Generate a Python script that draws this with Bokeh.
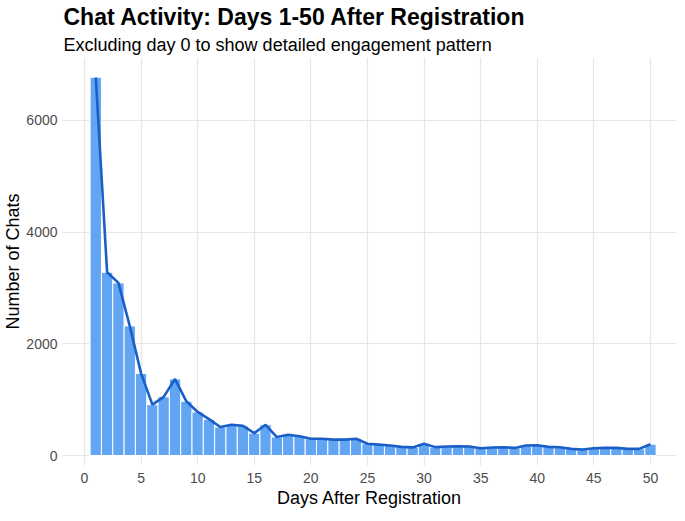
from bokeh.plotting import figure
from bokeh.models import Title, FixedTicker, Range1d, ColumnDataSource
from bokeh.embed import file_html
from bokeh.resources import INLINE

days = list(range(1, 51))
chats = [6770, 3280, 3090, 2320, 1470, 910, 1050, 1370, 970, 780,
         650, 510, 550, 530, 400, 550, 330, 370, 345, 300,
         300, 285, 285, 300, 210, 195, 180, 155, 145, 210,
         150, 160, 165, 160, 130, 142, 148, 136, 178, 184,
         154, 148, 119, 107, 130, 136, 136, 119, 119, 202]
x_ticks = [0, 5, 10, 15, 20, 25, 30, 35, 40, 45, 50]
y_ticks = [0, 2000, 4000, 6000]

title_text = "Chat Activity: Days 1-50 After Registration"
subtitle_text = "Excluding day 0 to show detailed engagement pattern"
x_label = "Days After Registration"
y_label = "Number of Chats"

FONT = "Liberation Sans"

src = ColumnDataSource(dict(day=days, chats=chats))

p = figure(width=677, height=513, output_backend="svg", toolbar_location=None,
           x_range=Range1d(-1.94, 52.3), y_range=Range1d(-179, 7125),
           min_border_left=62, min_border_right=1, min_border_top=57, min_border_bottom=48)

p.vbar(x="day", top="chats", width=1.0, source=src, fill_color="#62a5f2",
       line_color="white", line_width=1)
p.line(x="day", y="chats", source=src, line_color="#1a5fc8", line_width=2.6)

p.outline_line_color = None
p.background_fill_color = "white"
p.border_fill_color = "white"

for ax in (p.xaxis[0], p.yaxis[0]):
    ax.axis_line_color = None
    ax.major_tick_line_color = None
    ax.minor_tick_line_color = None
    ax.major_tick_out = 0
    ax.major_tick_in = 0
    ax.major_label_text_font = FONT
    ax.major_label_text_font_size = "14px"
    ax.major_label_text_color = "#4d4d4d"
    ax.axis_label_text_font = FONT
    ax.axis_label_text_font_size = "18px"
    ax.axis_label_text_font_style = "normal"
    ax.axis_label_text_color = "black"

p.xaxis.ticker = FixedTicker(ticks=x_ticks)
p.yaxis.ticker = FixedTicker(ticks=y_ticks)
p.xaxis.axis_label = x_label
p.yaxis.axis_label = y_label
p.xaxis.major_label_standoff = 7
p.xaxis.axis_label_standoff = 2
p.yaxis.major_label_standoff = 5
p.yaxis.axis_label_standoff = 0

p.xgrid.grid_line_color = "#e6e6e6"
p.ygrid.grid_line_color = "#e6e6e6"
p.xgrid.grid_line_width = 1.2
p.ygrid.grid_line_width = 1.2

p.add_layout(Title(text=subtitle_text, text_font=FONT, text_font_size="18px",
                   text_font_style="normal", text_color="black",
                   align="left", offset=1, standoff=6), "above")
p.add_layout(Title(text=title_text, text_font=FONT, text_font_size="23px",
                   text_font_style="bold", text_color="black",
                   align="left", offset=1, standoff=0), "above")

open("out.html", "w").write(file_html(p, INLINE))
